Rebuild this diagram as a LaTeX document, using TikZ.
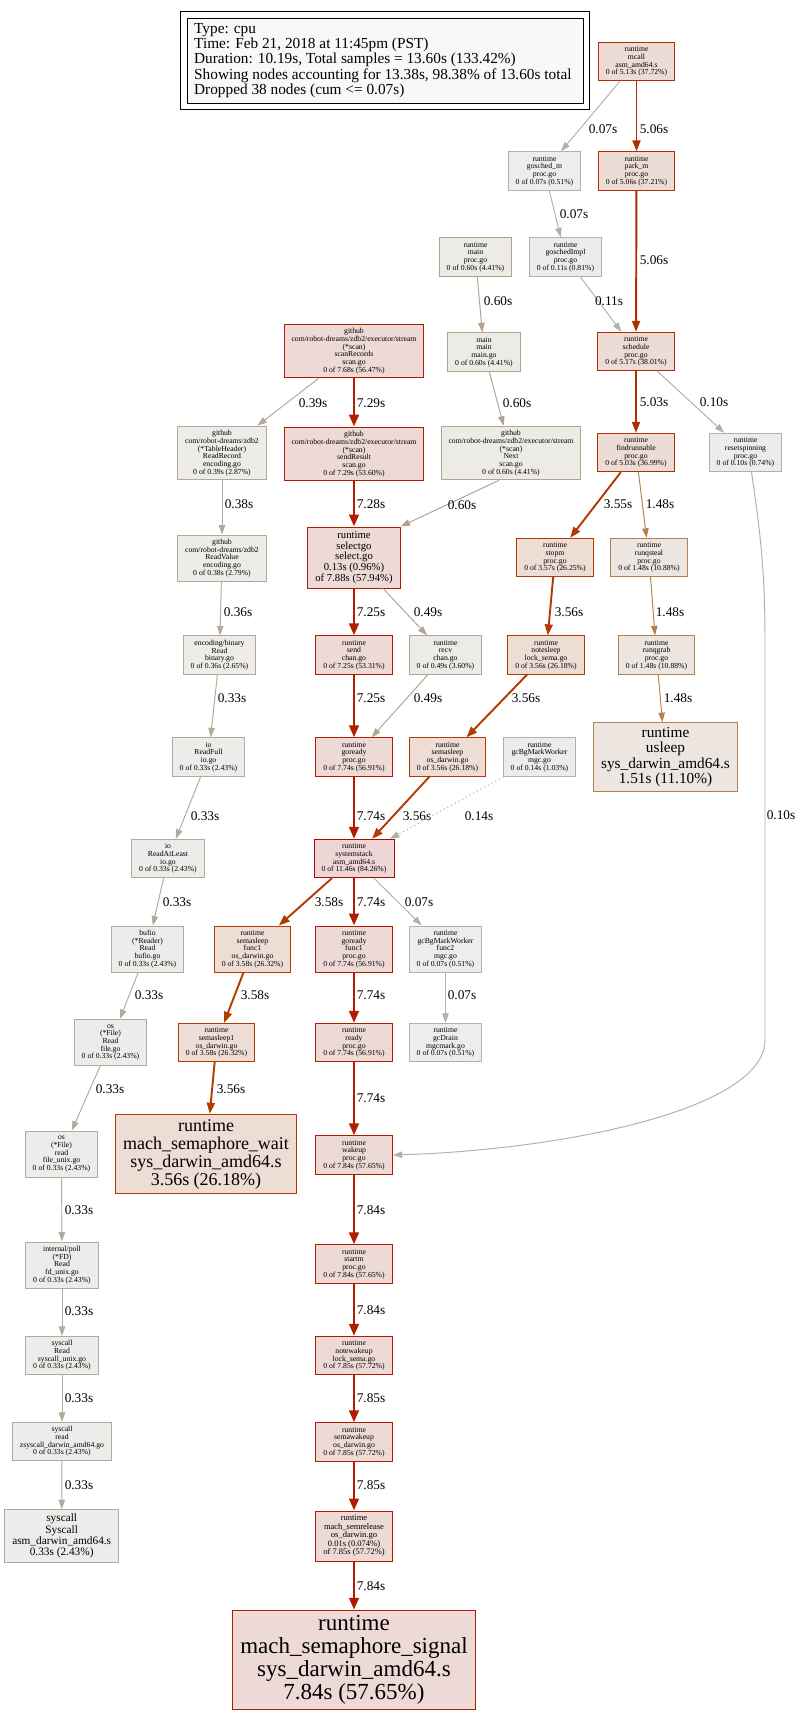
\documentclass[tikz,border=0pt]{standalone}
\usepackage{fontspec}
\setmainfont{Liberation Serif}
\usetikzlibrary{arrows.meta}
% node colours (border / fill)
\definecolor{nR}{HTML}{B21B00}\definecolor{fR}{HTML}{EDD9D5}
\definecolor{nS}{HTML}{B20800}\definecolor{fS}{HTML}{EDD6D5}
\definecolor{nM}{HTML}{B22D00}\definecolor{fM}{HTML}{EDDBD5}
\definecolor{nO}{HTML}{B23B00}\definecolor{fO}{HTML}{EDDDD5}
\definecolor{nT}{HTML}{B28051}\definecolor{fT}{HTML}{EDE6E0}
\definecolor{nB60}{HTML}{B2A38B}\definecolor{fB60}{HTML}{EDEBE7}
\definecolor{nB49}{HTML}{B2A692}\definecolor{fB49}{HTML}{EDEBE8}
\definecolor{nB39}{HTML}{B2A998}\definecolor{fB39}{HTML}{EDECE9}
\definecolor{nB33}{HTML}{B2AB9C}\definecolor{fB33}{HTML}{EDECEA}
\definecolor{nG14}{HTML}{B2B0A9}\definecolor{fG14}{HTML}{EDECEC}
\definecolor{nG10}{HTML}{B2B0AB}\definecolor{fG10}{HTML}{EDECEC}
\definecolor{nG07}{HTML}{B2B1AD}\definecolor{fG07}{HTML}{EDEDEC}
\definecolor{legfill}{HTML}{F8F8F8}
% edge colours
\definecolor{eR}{HTML}{B21B00}
\definecolor{eR2}{HTML}{B21E00}
\definecolor{eM}{HTML}{B22D00}
\definecolor{eO}{HTML}{B23B00}
\definecolor{eT}{HTML}{B28051}
\definecolor{e60}{HTML}{B2A38B}
\definecolor{e49}{HTML}{B2A692}
\definecolor{e39}{HTML}{B2A998}
\definecolor{e33}{HTML}{B2AB9C}
\definecolor{e14}{HTML}{B2B0A9}
\definecolor{e10}{HTML}{B2B0AB}
\definecolor{e07}{HTML}{B2B1AD}
% fonts
\newcommand\fsm{\fontsize{7.7}{7.7}\selectfont}
\newcommand\fsr{\fontsize{8.5}{8.5}\selectfont}
\newcommand\fsel{\fontsize{10.7}{10.7}\selectfont}
\newcommand\fsys{\fontsize{11.3}{11.3}\selectfont}
\newcommand\fus{\fontsize{15.3}{15.3}\selectfont}
\newcommand\fwait{\fontsize{18}{18}\selectfont}
\newcommand\fsig{\fontsize{23}{23}\selectfont}
\newcommand\flab{\fontsize{13.3}{13.3}\selectfont}
\newcommand\fleg{\fontsize{15.3}{15.4}\selectfont}
\tikzset{
  nb/.style={draw, rectangle, align=center, inner xsep=7.5, inner ysep=0, line width=0.9, text=black},
  s4/.style={nb, font=\fsm, minimum height=38.4},
  s5/.style={nb, font=\fsm, minimum height=46.1},
  s6/.style={nb, font=\fsm, minimum height=53.8},
  cR/.style={draw=nR, fill=fR},
  cS/.style={draw=nS, fill=fS},
  cM/.style={draw=nM, fill=fM},
  cO/.style={draw=nO, fill=fO},
  cT/.style={draw=nT, fill=fT},
  cB60/.style={draw=nB60, fill=fB60},
  cB49/.style={draw=nB49, fill=fB49},
  cB39/.style={draw=nB39, fill=fB39},
  cB33/.style={draw=nB33, fill=fB33},
  cG14/.style={draw=nG14, fill=fG14},
  cG10/.style={draw=nG10, fill=fG10},
  cG07/.style={draw=nG07, fill=fG07},
  lbl/.style={font=\flab, inner sep=0, text=black},
  ed/.style={-{Triangle[length=9.5pt,width=6.5pt]}, line width=0.96},
  edd/.style={-{Triangle[length=11pt,width=8pt]}, line width=1.92},
  eddd/.style={-{Triangle[length=12pt,width=9.5pt]}, line width=2.9},
}
\begin{document}
\begin{tikzpicture}[x=1pt,y=-1pt]
\useasboundingbox (0,0) rectangle (800,1714);
\fill[white] (0,0) rectangle (800,1714);

% legend
\node[draw=black, line width=0.9, minimum width=409, minimum height=98, anchor=north west, inner sep=0] (legout) at (180,11) {};
\node[draw=black, fill=legfill, line width=0.9, minimum width=396, minimum height=85, anchor=north west, inner sep=0] (legin) at (187,18) {};
\node[anchor=west, align=left, font=\fleg, inner sep=0] (legtext) at (194,60.5) {Type: cpu\\Time: Feb 21, 2018 at 11:45pm (PST)\\Duration: 10.19s, Total samples = 13.60s (133.42\%)\\Showing nodes accounting for 13.38s, 98.38\% of 13.60s total\\Dropped 38 nodes (cum <= 0.07s)};

% nodes
\node[s4,cM] (mcall) at (636.5,61.5) {runtime\\mcall\\asm\_amd64.s\\0 of 5.13s (37.72\%)};
\node[s4,cM] (parkm) at (636.5,171) {runtime\\park\_m\\proc.go\\0 of 5.06s (37.21\%)};
\node[s4,cG07] (goschedm) at (544.5,171) {runtime\\gosched\_m\\proc.go\\0 of 0.07s (0.51\%)};
\node[s4,cG10] (goschedimpl) at (565.5,257) {runtime\\goschedImpl\\proc.go\\0 of 0.11s (0.81\%)};
\node[s4,cB60] (rtmain) at (475.5,257) {runtime\\main\\proc.go\\0 of 0.60s (4.41\%)};
\node[s4,cM] (schedule) at (636,351.5) {runtime\\schedule\\proc.go\\0 of 5.17s (38.01\%)};
\node[s4,cB60] (mainmain) at (484,352) {main\\main\\main.go\\0 of 0.60s (4.41\%)};
\node[s6,cR] (scanrec) at (354,351) {github\\com/robot-dreams/zdb2/executor/stream\\(*scan)\\scanRecords\\scan.go\\0 of 7.68s (56.47\%)};
\node[s6,cB39] (readrecord) at (222,453) {github\\com/robot-dreams/zdb2\\(*TableHeader)\\ReadRecord\\encoding.go\\0 of 0.39s (2.87\%)};
\node[s6,cR] (sendresult) at (354,454) {github\\com/robot-dreams/zdb2/executor/stream\\(*scan)\\sendResult\\scan.go\\0 of 7.29s (53.60\%)};
\node[s6,cB60] (next) at (511,453) {github\\com/robot-dreams/zdb2/executor/stream\\(*scan)\\Next\\scan.go\\0 of 0.60s (4.41\%)};
\node[s4,cM] (findrunnable) at (636,452.5) {runtime\\findrunnable\\proc.go\\0 of 5.03s (36.99\%)};
\node[s4,cG10] (resetspinning) at (745.5,452.5) {runtime\\resetspinning\\proc.go\\0 of 0.10s (0.74\%)};
\node[nb,cR,font=\fsel,minimum height=61.1] (selectgo) at (354,557.5) {runtime\\selectgo\\select.go\\0.13s (0.96\%)\\of 7.88s (57.94\%)};
\node[s5,cB39] (readvalue) at (222,558) {github\\com/robot-dreams/zdb2\\ReadValue\\encoding.go\\0 of 0.38s (2.79\%)};
\node[s4,cO] (stopm) at (555,557.5) {runtime\\stopm\\proc.go\\0 of 3.57s (26.25\%)};
\node[s4,cT] (runqsteal) at (649,557.5) {runtime\\runqsteal\\proc.go\\0 of 1.48s (10.88\%)};
\node[s4,cB39] (encbin) at (219.5,655) {encoding/binary\\Read\\binary.go\\0 of 0.36s (2.65\%)};
\node[s4,cR] (send) at (354,655) {runtime\\send\\chan.go\\0 of 7.25s (53.31\%)};
\node[s4,cB49] (recv) at (445.5,655) {runtime\\recv\\chan.go\\0 of 0.49s (3.60\%)};
\node[s4,cO] (notesleep) at (546,655) {runtime\\notesleep\\lock\_sema.go\\0 of 3.56s (26.18\%)};
\node[s4,cT] (runqgrab) at (656.5,655) {runtime\\runqgrab\\proc.go\\0 of 1.48s (10.88\%)};
\node[s4,cB33] (readfull) at (208.5,757) {io\\ReadFull\\io.go\\0 of 0.33s (2.43\%)};
\node[s4,cR] (goready) at (354,757) {runtime\\goready\\proc.go\\0 of 7.74s (56.91\%)};
\node[s4,cO] (semasleep) at (447.5,757) {runtime\\semasleep\\os\_darwin.go\\0 of 3.56s (26.18\%)};
\node[s4,cG14] (gcbg) at (539.5,757) {runtime\\gcBgMarkWorker\\mgc.go\\0 of 0.14s (1.03\%)};
\node[nb,cT,font=\fus,minimum height=68.8] (usleep) at (665.5,757) {runtime\\usleep\\sys\_darwin\_amd64.s\\1.51s (11.10\%)};
\node[s4,cB33] (readatleast) at (168,858.5) {io\\ReadAtLeast\\io.go\\0 of 0.33s (2.43\%)};
\node[s4,cS] (systemstack) at (354,858.5) {runtime\\systemstack\\asm\_amd64.s\\0 of 11.46s (84.26\%)};
\node[s5,cB33] (bufio) at (147.5,949) {bufio\\(*Reader)\\Read\\bufio.go\\0 of 0.33s (2.43\%)};
\node[s5,cO] (semfunc1) at (252.5,949) {runtime\\semasleep\\func1\\os\_darwin.go\\0 of 3.58s (26.32\%)};
\node[s5,cR] (goreadyf1) at (354,949) {runtime\\goready\\func1\\proc.go\\0 of 7.74s (56.91\%)};
\node[s5,cG07] (gcbgf2) at (445.5,949) {runtime\\gcBgMarkWorker\\func2\\mgc.go\\0 of 0.07s (0.51\%)};
\node[s5,cB33] (osRead) at (110.5,1042.5) {os\\(*File)\\Read\\file.go\\0 of 0.33s (2.43\%)};
\node[s4,cO] (semasleep1) at (216.5,1042.5) {runtime\\semasleep1\\os\_darwin.go\\0 of 3.58s (26.32\%)};
\node[s4,cR] (ready) at (354,1042.5) {runtime\\ready\\proc.go\\0 of 7.74s (56.91\%)};
\node[s4,cG07] (gcdrain) at (445.5,1042.5) {runtime\\gcDrain\\mgcmark.go\\0 of 0.07s (0.51\%)};
\node[s5,cB33] (osread) at (61.5,1154) {os\\(*File)\\read\\file\_unix.go\\0 of 0.33s (2.43\%)};
\node[nb,cO,font=\fwait,minimum height=79.6] (semwait) at (206,1154) {runtime\\mach\_semaphore\_wait\\sys\_darwin\_amd64.s\\3.56s (26.18\%)};
\node[s4,cR] (wakeup) at (354,1155) {runtime\\wakeup\\proc.go\\0 of 7.84s (57.65\%)};
\node[s5,cB33] (poll) at (62,1265) {internal/poll\\(*FD)\\Read\\fd\_unix.go\\0 of 0.33s (2.43\%)};
\node[s4,cR] (startm) at (354,1264) {runtime\\startm\\proc.go\\0 of 7.84s (57.65\%)};
\node[s4,cB33] (sysRead) at (62,1355.5) {syscall\\Read\\syscall\_unix.go\\0 of 0.33s (2.43\%)};
\node[s4,cR] (notewakeup) at (354,1355.5) {runtime\\notewakeup\\lock\_sema.go\\0 of 7.85s (57.72\%)};
\node[s4,cB33] (sysread) at (62,1441.5) {syscall\\read\\zsyscall\_darwin\_amd64.go\\0 of 0.33s (2.43\%)};
\node[s4,cR] (semawakeup) at (354,1442) {runtime\\semawakeup\\os\_darwin.go\\0 of 7.85s (57.72\%)};
\node[nb,cB33,font=\fsys,minimum height=52.8] (syscall) at (61.7,1536) {syscall\\Syscall\\asm\_darwin\_amd64.s\\0.33s (2.43\%)};
\node[nb,cR,font=\fsr,minimum height=50.1] (semrelease) at (354,1536) {runtime\\mach\_semrelease\\os\_darwin.go\\0.01s (0.074\%)\\of 7.85s (57.72\%)};
\node[nb,cR,font=\fsig,minimum height=99.6] (semsignal) at (354,1660) {runtime\\mach\_semaphore\_signal\\sys\_darwin\_amd64.s\\7.84s (57.65\%)};

% edges
\draw[ed,draw=e07] (mcall) -- (goschedm) node[lbl] (l1) at (603,129) {0.07s};
\draw[edd,draw=eM] (mcall) -- (parkm) node[lbl] (l2) at (654,129) {5.06s};
\draw[ed,draw=e07] (goschedm) -- (goschedimpl) node[lbl] (l3) at (574,214) {0.07s};
\draw[edd,draw=eM] (parkm) -- (schedule) node[lbl] (l4) at (654,260) {5.06s};
\draw[ed,draw=e10] (goschedimpl) -- (schedule) node[lbl] (l5) at (609,301) {0.11s};
\draw[ed,draw=e60] (rtmain) -- (mainmain) node[lbl] (l6) at (498,301) {0.60s};
\draw[ed,draw=e39] (scanrec) -- (readrecord) node[lbl] (l7) at (313,403) {0.39s};
\draw[eddd,draw=eR2] (scanrec) -- (sendresult) node[lbl] (l8) at (371,403) {7.29s};
\draw[ed,draw=e60] (mainmain) -- (next) node[lbl] (l9) at (517,403) {0.60s};
\draw[edd,draw=eM] (schedule) -- (findrunnable) node[lbl] (l10) at (654,402) {5.03s};
\draw[ed,draw=e10] (schedule) -- (resetspinning) node[lbl] (l11) at (714,402) {0.10s};
\draw[ed,draw=e39] (readrecord) -- (readvalue) node[lbl] (l12) at (239,504) {0.38s};
\draw[eddd,draw=eR2] (sendresult) -- (selectgo) node[lbl] (l13) at (371,504) {7.28s};
\draw[ed,draw=e60] ([xshift=-12]next.south) -- (selectgo.north east) node[lbl] (l14) at (462,505) {0.60s};
\draw[edd,draw=eO] (findrunnable) -- (stopm) node[lbl] (l15) at (618,504) {3.55s};
\draw[ed,draw=eT] (findrunnable) -- (runqsteal) node[lbl] (l16) at (660,504) {1.48s};
\draw[ed,draw=e39] (readvalue) -- (encbin) node[lbl] (l17) at (238,612) {0.36s};
\draw[eddd,draw=eR2] (selectgo) -- (send) node[lbl] (l18) at (371,612) {7.25s};
\draw[ed,draw=e49] (selectgo) -- (recv) node[lbl] (l19) at (428,612) {0.49s};
\draw[edd,draw=eO] (stopm) -- (notesleep) node[lbl] (l20) at (569,612) {3.56s};
\draw[ed,draw=eT] (runqsteal) -- (runqgrab) node[lbl] (l21) at (670,612) {1.48s};
\draw[ed,draw=e33] (encbin) -- (readfull) node[lbl] (l22) at (232,698) {0.33s};
\draw[eddd,draw=eR2] (send) -- (goready) node[lbl] (l23) at (371,698) {7.25s};
\draw[ed,draw=e49] (recv) -- (goready) node[lbl] (l24) at (428,698) {0.49s};
\draw[edd,draw=eO] (notesleep) -- (semasleep) node[lbl] (l25) at (526,698) {3.56s};
\draw[ed,draw=eT] (runqgrab) -- (usleep) node[lbl] (l26) at (678,698) {1.48s};
\draw[ed,draw=e33] (readfull) -- (readatleast) node[lbl] (l27) at (205,816) {0.33s};
\draw[eddd,draw=eR] (goready) -- (systemstack) node[lbl] (l28) at (371,816) {7.74s};
\draw[edd,draw=eO] (semasleep) -- (systemstack) node[lbl] (l29) at (417,816) {3.56s};
\draw[ed,draw=e14,dash pattern=on 1.2pt off 3pt] (gcbg) -- (systemstack) node[lbl] (l30) at (479,816) {0.14s};
\draw[ed,draw=e10] ([xshift=6]resetspinning.south) .. controls (760,530) and (765,570) .. (765,640) -- (765,1040) .. controls (765,1110) and (560,1150) .. (wakeup.east) node[lbl] (l31) at (781,815) {0.10s};
\draw[ed,draw=e33] (readatleast) -- (bufio) node[lbl] (l32) at (177,902) {0.33s};
\draw[edd,draw=eO] (systemstack) -- (semfunc1) node[lbl] (l33) at (329,902) {3.58s};
\draw[eddd,draw=eR] (systemstack) -- (goreadyf1) node[lbl] (l34) at (371,902) {7.74s};
\draw[ed,draw=e07] (systemstack) -- (gcbgf2) node[lbl] (l35) at (419,902) {0.07s};
\draw[ed,draw=e33] (bufio) -- (osRead) node[lbl] (l36) at (149,995) {0.33s};
\draw[edd,draw=eO] (semfunc1) -- (semasleep1) node[lbl] (l37) at (255,995) {3.58s};
\draw[eddd,draw=eR] (goreadyf1) -- (ready) node[lbl] (l38) at (371,995) {7.74s};
\draw[ed,draw=e07] (gcbgf2) -- (gcdrain) node[lbl] (l39) at (462,995) {0.07s};
\draw[ed,draw=e33] (osRead) -- (osread) node[lbl] (l40) at (110,1089) {0.33s};
\draw[edd,draw=eO] (semasleep1) -- (semwait) node[lbl] (l41) at (231,1089) {3.56s};
\draw[eddd,draw=eR] (ready) -- (wakeup) node[lbl] (l42) at (371,1098) {7.74s};
\draw[ed,draw=e33] (osread) -- (poll) node[lbl] (l43) at (79,1210) {0.33s};
\draw[eddd,draw=eR] (wakeup) -- (startm) node[lbl] (l44) at (371,1210) {7.84s};
\draw[ed,draw=e33] (poll) -- (sysRead) node[lbl] (l45) at (79,1311) {0.33s};
\draw[eddd,draw=eR] (startm) -- (notewakeup) node[lbl] (l46) at (371,1310) {7.84s};
\draw[ed,draw=e33] (sysRead) -- (sysread) node[lbl] (l47) at (79,1398) {0.33s};
\draw[eddd,draw=eR] (notewakeup) -- (semawakeup) node[lbl] (l48) at (371,1398) {7.85s};
\draw[ed,draw=e33] (sysread) -- (syscall) node[lbl] (l49) at (79,1485) {0.33s};
\draw[eddd,draw=eR] (semawakeup) -- (semrelease) node[lbl] (l50) at (371,1485) {7.85s};
\draw[eddd,draw=eR] (semrelease) -- (semsignal) node[lbl] (l51) at (371,1586) {7.84s};
\end{tikzpicture}
\end{document}
